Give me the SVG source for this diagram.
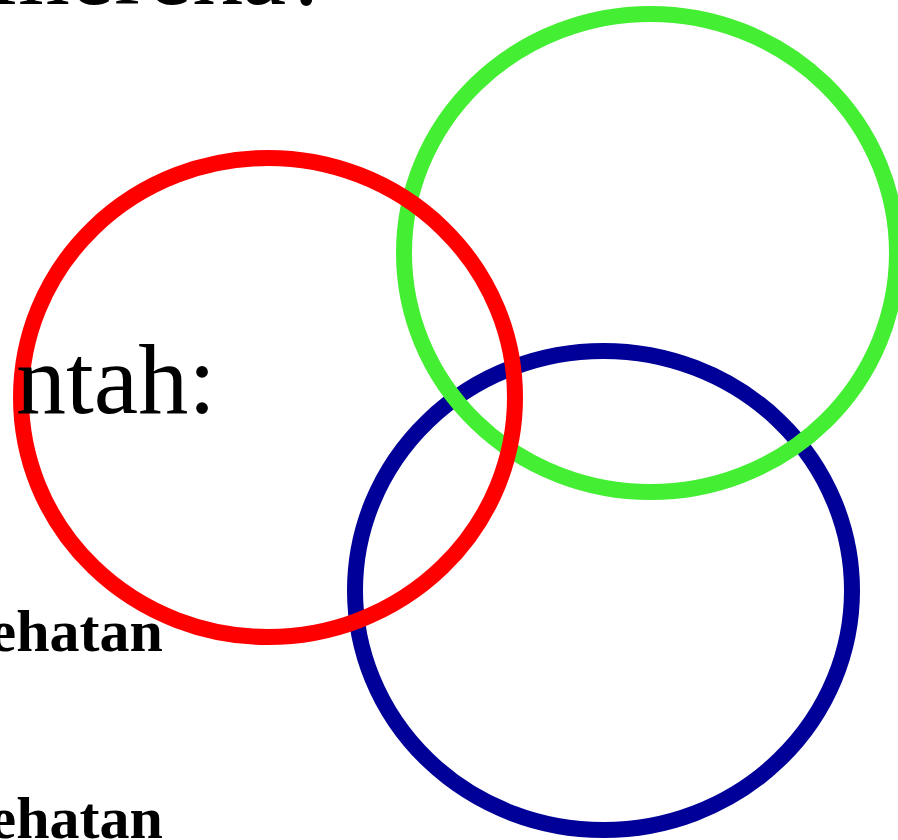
<svg xmlns="http://www.w3.org/2000/svg" width="898" height="840" viewBox="0 0 898 840">
<style>
.c{fill:none;stroke-width:16}
.big{font-family:"Liberation Serif","Times New Roman",serif;font-size:100px;fill:#000}
.bold{font-family:"Liberation Serif","Times New Roman",serif;font-size:60px;font-weight:bold;fill:#000}
</style>
<rect width="898" height="840" fill="#fff"/>
<g id="circles">
<ellipse id="blue" class="c" cx="603.5" cy="590.5" rx="248.5" ry="239.5" stroke="#000099"/>
<ellipse id="green" class="c" cx="650.5" cy="253" rx="246.5" ry="239" stroke="#44EE33"/>
<ellipse id="red" class="c" cx="268" cy="397.5" rx="247" ry="239.5" stroke="#FF0000"/>
</g>
<g id="texts">
<text class="big" x="-8" y="4">mereka?</text>
<text class="big" x="16" y="413">ntah:</text>
<text class="bold" x="-10.4" y="651">ehatan</text>
<text class="bold" x="-10.4" y="838">ehatan</text>
</g>
</svg>
